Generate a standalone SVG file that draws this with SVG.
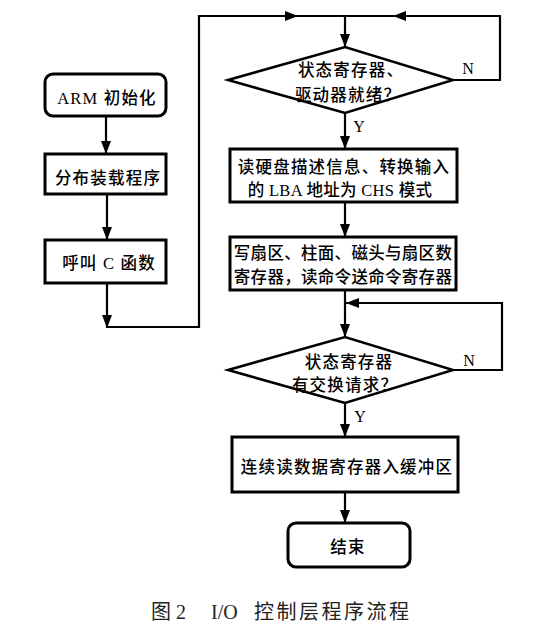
<svg xmlns="http://www.w3.org/2000/svg" width="553" height="633" viewBox="0 0 553 633">
<style>
  .box { fill: #fff; stroke: #000; stroke-width: 3; }
  .dia { fill: #fff; stroke: #000; stroke-width: 2.5; }
  .ln { fill: none; stroke: #000; stroke-width: 2.2; }
  .t { font-family: "Liberation Serif", "Noto Sans CJK SC", serif; font-size: 16.5px; letter-spacing: 1.2px; fill: #000; text-anchor: middle; font-weight: 500; }
  .tn { letter-spacing: 0.3px; }
  .lbl { font-family: "Liberation Serif", "Noto Sans CJK SC", serif; font-size: 16px; fill: #000; text-anchor: middle; }
  .cap { font-family: "Liberation Serif", "Noto Sans CJK SC", serif; font-size: 20px; fill: #222; }
</style>
<defs>
  <marker id="ah" viewBox="0 0 13 10" refX="13" refY="5" markerWidth="13" markerHeight="10" markerUnits="userSpaceOnUse" orient="auto">
    <path d="M0,0 L13,5 L0,10 Z" fill="#000"/>
  </marker>
</defs>
<rect width="553" height="633" fill="#fff"/>

<g id="connectors">
  <path class="ln" d="M106,116 V154" marker-end="url(#ah)"/>
  <path class="ln" d="M107,194 V240" marker-end="url(#ah)"/>
  <path class="ln" d="M107,283 V328" marker-end="url(#ah)"/>
  <path class="ln" d="M107,327 H199 V16 H298" marker-end="url(#ah)"/>
  <path class="ln" d="M297,16 H345"/>
  <path class="ln" d="M345,16 V47" marker-end="url(#ah)"/>
  <path class="ln" d="M453,80 H500 V16 H393" marker-end="url(#ah)"/>
  <path class="ln" d="M394,16 H345"/>
  <path class="ln" d="M345,113 V149" marker-end="url(#ah)"/>
  <path class="ln" d="M345,202 V237" marker-end="url(#ah)"/>
  <path class="ln" d="M345,290 V337" marker-end="url(#ah)"/>
  <path class="ln" d="M453,370 H502 V303 H346" marker-end="url(#ah)"/>
  <path class="ln" d="M345,403 V437" marker-end="url(#ah)"/>
  <path class="ln" d="M345,492 V523" marker-end="url(#ah)"/>
  <text class="lbl" x="468" y="74">N</text>
  <text class="lbl" x="359" y="132">Y</text>
  <text class="lbl" x="469" y="366">N</text>
  <text class="lbl" x="360" y="422">Y</text>
</g>

<g id="n_arm">
  <rect class="box" x="45" y="74" width="121" height="42" rx="8"/>
  <text class="t" x="107" y="104">ARM 初始化</text>
</g>
<g id="n_load">
  <rect class="box" x="45" y="154" width="121" height="40"/>
  <text class="t" x="108" y="184">分布装载程序</text>
</g>
<g id="n_callc">
  <rect class="box" x="45" y="240" width="121" height="43"/>
  <text class="t" x="109" y="269">呼叫 C 函数</text>
</g>
<g id="n_ready">
  <polygon class="dia" points="228,80 345,47 453,80 345,113"/>
  <text class="t" x="351" y="76">状态寄存器、</text>
  <text class="t" x="348" y="101">驱动器就绪？</text>
</g>
<g id="n_readinfo">
  <rect class="box" x="230" y="149" width="227" height="53"/>
  <text class="t" x="344" y="173">读硬盘描述信息、转换输入</text>
  <text class="t tn" x="340" y="196">的 LBA 地址为 CHS 模式</text>
</g>
<g id="n_write">
  <rect class="box" x="230" y="237" width="226" height="53"/>
  <text class="t tn" x="343" y="259">写扇区、柱面、磁头与扇区数</text>
  <text class="t tn" x="343" y="283">寄存器，读命令送命令寄存器</text>
</g>
<g id="n_req">
  <polygon class="dia" points="228,370 345,337 453,370 345,403"/>
  <text class="t" x="349" y="368">状态寄存器</text>
  <text class="t" x="345" y="391">有交换请求？</text>
</g>
<g id="n_buf">
  <rect class="box" x="232" y="437" width="226" height="55"/>
  <text class="t" x="347" y="473">连续读数据寄存器入缓冲区</text>
</g>
<g id="n_end">
  <rect class="box" x="288" y="523" width="122" height="44" rx="8"/>
  <text class="t" x="348" y="553">结束</text>
</g>

<g id="caption">
  <text class="cap" x="151" y="619">图</text>
  <text class="cap" x="176" y="619">2</text>
  <text class="cap" x="211" y="619">I/O</text>
  <text class="cap" x="254" y="619" letter-spacing="2.5">控制层程序流程</text>
</g>
</svg>
